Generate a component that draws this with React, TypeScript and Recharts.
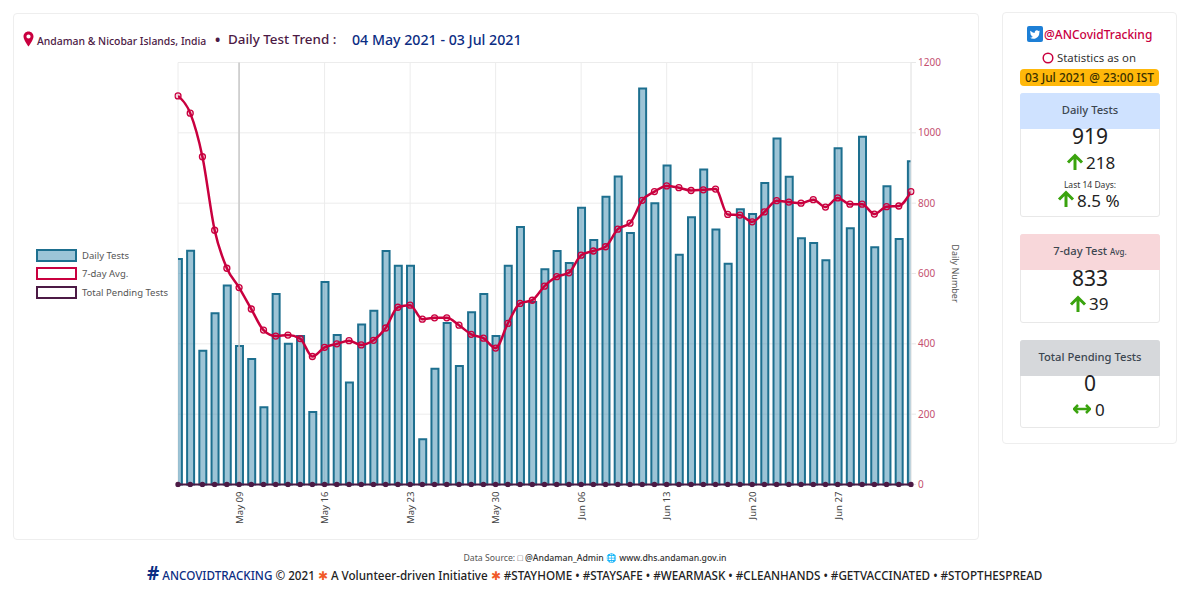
import { ComposedChart, Bar, Line, XAxis, YAxis, CartesianGrid, ReferenceLine } from "recharts";

const dailyTests = [
  641, 665, 380, 487, 566, 394, 357, 220, 542, 400, 422, 206, 576, 425, 290, 455, 494, 664, 622, 622,
  129, 329, 459, 337, 490, 542, 422, 622, 732, 519, 612, 664, 630, 787, 695, 818, 876, 715, 1126, 800,
  907, 653, 760, 896, 725, 628, 783, 769, 857, 984, 875, 700, 687, 638, 956, 729, 989, 675, 848, 698, 919,
];
const sevenDayAvg = [
  1105, 1056, 932, 723, 615, 560, 499, 439, 422, 425, 415, 364, 390, 400, 409, 397, 410, 445, 504, 510,
  470, 474, 474, 453, 427, 416, 388, 458, 515, 524, 564, 591, 602, 652, 664, 676, 726, 743, 808, 833,
  849, 844, 836, 838, 840, 768, 766, 747, 775, 807, 803, 800, 810, 789, 815, 797, 797, 769, 790, 792, 833,
];
const tickDays = [5, 12, 19, 26, 33, 40, 47, 54];
const tickLabels = ["May 09", "May 16", "May 23", "May 30", "Jun 06", "Jun 13", "Jun 20", "Jun 27"];
const yTicks = [0, 200, 400, 600, 800, 1000, 1200];

const chartData = dailyTests.map((tests, day) => ({ day, tests, avg: sevenDayAvg[day], pending: 0 }));

const FONT = "'Noto Sans', sans-serif";
const CRIMSON = "#c9003f";
const PLUM = "#4c1a45";
const NAVY = "#0b2d83";
const GREEN = "#3aa30e";

const legendItems = [
  { label: "Daily Tests", stroke: "#1d6f8f", fill: "#9cc5d8" },
  { label: "7-day Avg.", stroke: CRIMSON, fill: "#fff" },
  { label: "Total Pending Tests", stroke: PLUM, fill: "#fff" },
];

function ChartLegend() {
  return (
    <div style={{ position: "absolute", left: 36, top: 246, fontFamily: FONT, fontSize: 9.5, color: "#555" }}>
      {legendItems.map((item) => (
        <div key={item.label} style={{ display: "flex", alignItems: "center", height: 18.5 }}>
          <span
            style={{
              width: 37,
              height: 9,
              border: `2px solid ${item.stroke}`,
              background: item.fill,
              marginRight: 5,
              display: "inline-block",
            }}
          />
          {item.label}
        </div>
      ))}
    </div>
  );
}

function Txt({ x, y, size, color = "#222", weight = 400, center, children, spacing }: any) {
  return (
    <div
      style={{
        position: "absolute",
        left: center ? x - 300 : x,
        width: center ? 600 : undefined,
        textAlign: center ? "center" : "left",
        top: y,
        transform: "translateY(-50%)",
        fontFamily: FONT,
        fontSize: size,
        fontWeight: weight,
        color,
        letterSpacing: spacing,
        whiteSpace: "nowrap",
        lineHeight: 1,
      }}
    >
      {children}
    </div>
  );
}

function UpArrow({ x, y, size = 18 }: any) {
  return (
    <svg style={{ position: "absolute", left: x, top: y }} width={size} height={size} viewBox="0 0 18 18">
      <path d="M9 17V3M2 9.5L9 2.5L16 9.5" fill="none" stroke={GREEN} strokeWidth="3" />
    </svg>
  );
}

function Box({ top, height, title, head, children }: any) {
  return (
    <>
      <div
        style={{
          position: "absolute",
          left: 1020,
          top,
          width: 140,
          height,
          boxSizing: "border-box",
          border: "1px solid #e8e8e8",
          borderRadius: 3,
          background: "#fff",
        }}
      />
      <div
        style={{
          position: "absolute",
          left: 1020,
          top,
          width: 140,
          height: 36,
          background: head,
          borderRadius: "3px 3px 0 0",
        }}
      />
      <Txt x={1090} y={top + 17} size={11.2} color="#3c4650" weight={500} center>
        {title}
      </Txt>
      {children}
    </>
  );
}

export default function App() {
  return (
    <div style={{ position: "absolute", left: 0, top: 0, width: 1200, height: 601, background: "#fff", overflow: "hidden" }}>
      <div
        style={{
          position: "absolute",
          left: 13,
          top: 13,
          width: 966,
          height: 527,
          boxSizing: "border-box",
          border: "1px solid #eeeeee",
          borderRadius: 4,
        }}
      />
      <div style={{ position: "absolute", left: 13, top: 13 }}>
        <ComposedChart width={966} height={527} data={chartData} margin={{ top: 49.5, right: 18, bottom: 15.5, left: 165 }}>
          <CartesianGrid stroke="#ececec" strokeWidth={1} />
          <XAxis
            dataKey="day"
            type="number"
            domain={[0, 60]}
            allowDataOverflow
            ticks={tickDays}
            tickFormatter={(d: number) => tickLabels[tickDays.indexOf(d)]}
            interval={0}
            height={40}
            axisLine={false}
            tickLine={false}
            angle={-90}
            textAnchor="end"
            dx={-3}
            dy={-1}
            tick={{ fontFamily: FONT, fontSize: 9.6, fill: "#444" }}
          />
          <YAxis
            orientation="right"
            domain={[0, 1200]}
            ticks={yTicks}
            width={50}
            axisLine={{ stroke: "#e8e8e8" }}
            tickLine={{ stroke: "#e8e8e8" }}
            tickSize={5}
            tick={{ fontFamily: FONT, fontSize: 10, fill: "#c4506f" }}
            label={{
              value: "Daily Number",
              angle: 90,
              position: "insideRight",
              offset: 0,
              dx: -6,
              style: { fontFamily: FONT, fontSize: 9, fill: "#555", textAnchor: "middle" },
            }}
          />
          <ReferenceLine x={5} stroke="#c8c8c8" strokeWidth={1.5} />
          <Bar dataKey="tests" name="Daily Tests" barSize={7} fill="#3c8aae" fillOpacity={0.5} stroke="#1d6f8f" strokeWidth={2} isAnimationActive={false} />
          <Line
            dataKey="avg"
            name="7-day Avg."
            stroke={CRIMSON}
            strokeWidth={2.5}
            type="monotone"
            dot={{ r: 3, fill: "rgba(201,0,63,0.15)", stroke: CRIMSON, strokeWidth: 1.3, clipDot: false }}
            isAnimationActive={false}
          />
          <Line
            dataKey="pending"
            name="Total Pending Tests"
            stroke={PLUM}
            strokeWidth={2}
            dot={{ r: 1.8, fill: PLUM, stroke: PLUM, clipDot: false }}
            isAnimationActive={false}
          />
        </ComposedChart>
      </div>
      <ChartLegend />

      <svg style={{ position: "absolute", left: 23, top: 31 }} width={11} height={16} viewBox="0 0 11 16">
        <path d="M5.5 0.5C2.6 0.5 0.5 2.7 0.5 5.5C0.5 9 5.5 15.5 5.5 15.5C5.5 15.5 10.5 9 10.5 5.5C10.5 2.7 8.4 0.5 5.5 0.5ZM5.5 7.6A2.1 2.1 0 1 1 5.5 3.4A2.1 2.1 0 0 1 5.5 7.6Z" fill={CRIMSON} />
      </svg>
      <Txt x={37} y={41} size={10.4} color={PLUM} weight={500}>Andaman &amp; Nicobar Islands, India</Txt>
      <Txt x={215} y={40} size={14} color={PLUM} weight={700}>•</Txt>
      <Txt x={228} y={40} size={13.4} color={PLUM} weight={500}>Daily Test Trend :</Txt>
      <Txt x={352} y={40} size={14.2} color={NAVY} weight={500}>04 May 2021 - 03 Jul 2021</Txt>

      <div
        style={{
          position: "absolute",
          left: 1002,
          top: 12,
          width: 175,
          height: 432,
          boxSizing: "border-box",
          border: "1px solid #eeeeee",
          borderRadius: 4,
        }}
      />
      <svg style={{ position: "absolute", left: 1027, top: 26 }} width={16} height={16} viewBox="0 0 16 16">
        <rect width="16" height="16" rx="2" fill="#1d7fd6" />
        <path d="M13 5.2c-.4.2-.8.3-1.2.3.4-.3.8-.7.9-1.1-.4.2-.9.4-1.3.5a2.1 2.1 0 0 0-3.6 1.9C6 6.7 4.5 5.9 3.5 4.7c-.6 1-.3 2.2.6 2.8-.3 0-.6-.1-.9-.3 0 1 .7 1.9 1.7 2.1-.3.1-.6.1-.9 0 .3.8 1 1.4 1.9 1.5A4.3 4.3 0 0 1 3 11.7 6 6 0 0 0 12.3 6.4c.3-.3.5-.7.7-1.2z" fill="#fff" />
      </svg>
      <Txt x={1044} y={35} size={12} color={CRIMSON} weight={500}>@ANCovidTracking</Txt>
      <svg style={{ position: "absolute", left: 1042, top: 52 }} width={12} height={12} viewBox="0 0 12 12">
        <circle cx="6" cy="6" r="4.8" fill="none" stroke={CRIMSON} strokeWidth="1.5" />
      </svg>
      <Txt x={1057} y={58} size={11.4} color="#333">Statistics as on</Txt>
      <div style={{ position: "absolute", left: 1020, top: 69, width: 139, height: 17, background: "#ffb80a", borderRadius: 4 }} />
      <Txt x={1089.5} y={77.5} size={11.9} color="#3a3000" weight={500} center>03 Jul 2021 @ 23:00 IST</Txt>

      <Box top={93} height={124} title="Daily Tests" head="#cfe2ff">
        <Txt x={1090} y={136} size={21} color="#222" center>919</Txt>
        <UpArrow x={1066} y={153} />
        <Txt x={1086} y={162} size={17} color="#222">218</Txt>
        <Txt x={1090} y={184.5} size={8.5} color="#333" center>Last 14 Days:</Txt>
        <UpArrow x={1057} y={190} />
        <Txt x={1077} y={200} size={17} color="#222">8.5 %</Txt>
      </Box>
      <Box top={234} height={89} title={<>7-day Test <span style={{ fontSize: 8 }}>Avg.</span></>} head="#f8d7da">
        <Txt x={1090} y={278} size={21} color="#222" center>833</Txt>
        <UpArrow x={1069} y={295} />
        <Txt x={1089} y={303} size={17} color="#222">39</Txt>
      </Box>
      <Box top={340} height={88} title="Total Pending Tests" head="#d6d8db">
        <Txt x={1090} y={383} size={21} color="#222" center>0</Txt>
        <svg style={{ position: "absolute", left: 1073, top: 403 }} width={18} height={12} viewBox="0 0 18 12">
          <path d="M1 6H17M5 2L1 6L5 10M13 2L17 6L13 10" fill="none" stroke={GREEN} strokeWidth="2.5" />
        </svg>
        <Txt x={1095} y={409} size={17} color="#222">0</Txt>
      </Box>

      <Txt x={595} y={558} size={8.7} color="#555" center>
        Data Source: □ <span style={{ color: "#333", fontWeight: 500 }}>@Andaman_Admin</span> 🌐 <span style={{ color: "#333", fontWeight: 500 }}>www.dhs.andaman.gov.in</span>
      </Txt>
      <Txt x={147} y={573} size={11.67} color="#222" weight={500}>
        <span style={{ color: NAVY, fontSize: 19, fontWeight: 700 }}>#</span>{" "}
        <span style={{ color: NAVY }}>ANCOVIDTRACKING</span> © 2021 <span style={{ color: "#f15a29" }}>✱</span> A Volunteer-driven Initiative <span style={{ color: "#f15a29" }}>✱</span> #STAYHOME • #STAYSAFE • #WEARMASK • #CLEANHANDS • #GETVACCINATED • #STOPTHESPREAD
      </Txt>
    </div>
  );
}
